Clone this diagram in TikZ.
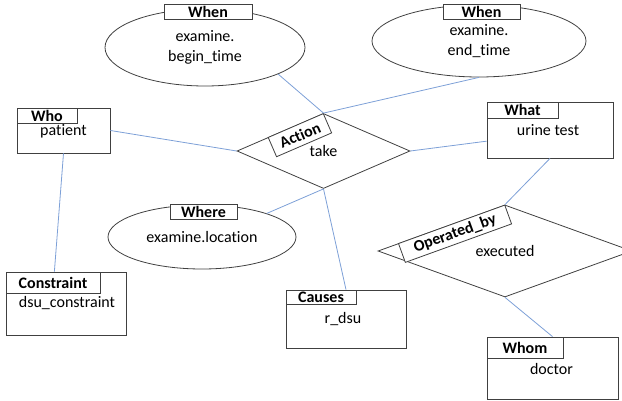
\documentclass[tikz,border=0pt]{standalone}
\usepackage{fontspec}
\setmainfont{Carlito}[Ligatures=NoCommon]
\usetikzlibrary{shapes.geometric,calc}
\definecolor{linkblue}{RGB}{125,160,215}
\definecolor{edgegray}{RGB}{64,64,64}
\newcommand{\diafont}{\fontsize{16}{19.5}\selectfont}
\tikzset{
  ent/.style={draw=edgegray,line width=0.8pt,inner sep=0pt},
  tag/.style={draw=edgegray,line width=0.8pt,fill=white,inner sep=0pt,font=\diafont\bfseries},
  attr/.style={ellipse,draw=edgegray,line width=0.8pt,inner sep=0pt,align=center},
  rel/.style={diamond,draw=edgegray,line width=0.8pt,inner sep=0pt},
  link/.style={draw=linkblue,line width=0.8pt}
}
\begin{document}
\begin{tikzpicture}[x=1pt,y=-1pt,font=\diafont]
\useasboundingbox (0,0) rectangle (622,401);
% attribute ellipses
\node[attr,minimum width=200pt,minimum height=77pt] (begin) at (205,47.5) {examine.\\begin\_time};
\node[attr,minimum width=214pt,minimum height=72pt] (end) at (479,41) {examine.\\end\_time};
\node[attr,minimum width=188pt,minimum height=64pt] (where) at (202,237) {examine.location};
\node[tag,minimum width=88pt,minimum height=15pt] (beginT) at ($(begin.north)+(3,3)$) {When};
\node[tag,minimum width=77pt,minimum height=15pt] (endT) at ($(end.north)+(2.5,7)$) {When};
\node[tag,minimum width=67pt,minimum height=15pt] (whereT) at ($(where.north)+(1.5,7.5)$) {Where};
% relations
\node[rel,minimum width=173pt,minimum height=75pt] (act) at (323.5,151) {take};
\node[tag,minimum width=60pt,minimum height=21pt,rotate=23.4,anchor=north east] (actT) at (act.north) {Action};
\node[rel,minimum width=254pt,minimum height=92pt] (ob) at (505,251) {executed};
\node[tag,minimum width=113pt,minimum height=20pt,rotate=19.9,anchor=north east] (obT) at (ob.north) {Operated\_by};
% entity boxes
\node[ent,minimum width=93pt,minimum height=45pt] (who) at (63.5,130.5) {};
\node[tag,minimum width=60pt,minimum height=15pt,anchor=north west] (whoT) at (who.north west) {Who};
\node at ($(who.north)+(0,24)$) {patient};
\node[ent,minimum width=126pt,minimum height=56pt] (what) at (550,130) {};
\node[tag,minimum width=71pt,minimum height=16pt,anchor=north west] (whatT) at (what.north west) {What};
\node at ($(what.north)+(-2,28)$) {urine test};
\node[ent,minimum width=120pt,minimum height=63pt] (con) at (66,303.5) {};
\node[tag,minimum width=94pt,minimum height=21pt,anchor=north west] (conT) at (con.north west) {Constraint};
\node at ($(con.north)+(1,31)$) {dsu\_constraint};
\node[ent,minimum width=120pt,minimum height=58pt] (cau) at (346,319) {};
\node[tag,minimum width=70pt,minimum height=14pt,anchor=north west] (cauT) at (cau.north west) {Causes};
\node at ($(cau.north)+(-3,29)$) {r\_dsu};
\node[ent,minimum width=131pt,minimum height=62pt] (whom) at (552.5,368) {};
\node[tag,minimum width=76pt,minimum height=21pt,anchor=north west] (whomT) at (whom.north west) {Whom};
\node at ($(whom.north)+(-1,32)$) {doctor};
% links
\draw[link] (begin.-20) -- (act.north);
\draw[link] (end.south) -- (act.north);
\draw[link] (who.east) -- (act.west);
\draw[link] (act.east) -- (what.190);
\draw[link] (where.20) -- (act.south);
\draw[link] (act.south) -- (cau.north);
\draw[link] (who.south) -- (con.110);
\draw[link] (what.south) -- (ob.north);
\draw[link] (ob.south) -- (whom.north);
\end{tikzpicture}
\end{document}
